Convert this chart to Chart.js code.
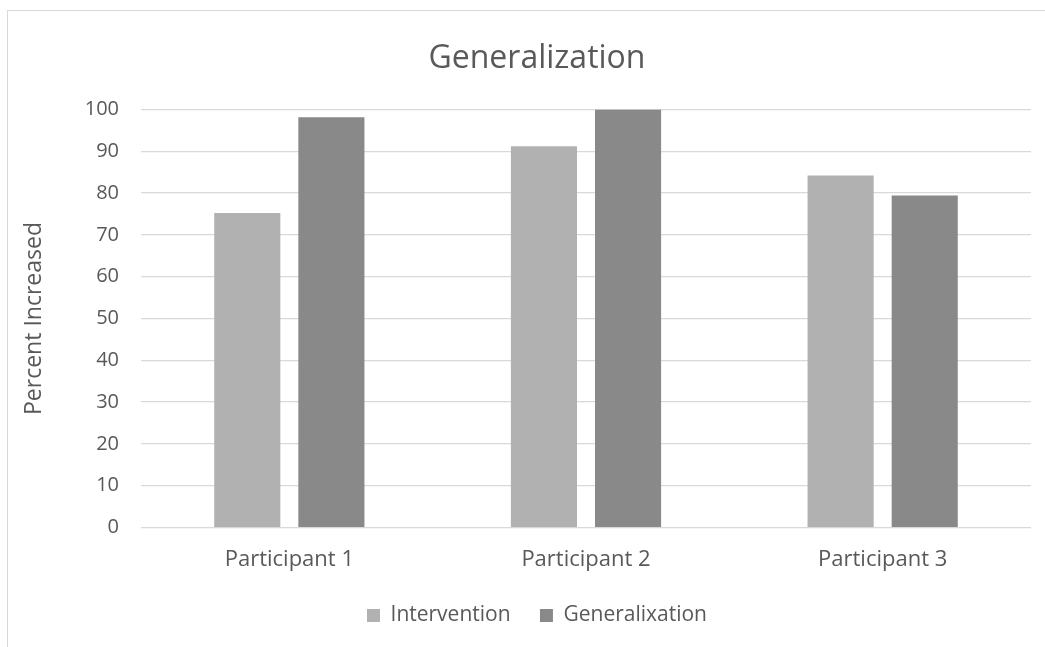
<!DOCTYPE html>
<html>
<head>
<meta charset="utf-8">
<script src="https://cdn.jsdelivr.net/npm/chart.js@4"></script>
<style>
  html, body { margin: 0; padding: 0; background: #fff; overflow: hidden; }
  body { width: 1045px; height: 647px; position: relative; }
  #frame {
    position: absolute; left: 7px; top: 10px;
    width: 1058px; height: 660px;
    border: 1px solid #d9d9d9; background: #fff;
  }
  #chart { display: block; }
</style>
</head>
<body>
<div id="frame"><canvas id="chart" width="1058" height="660"></canvas></div>
<script>
const categories = ['Participant 1', 'Participant 2', 'Participant 3'];
const interventionValues = [75.2, 91.2, 84.2];
const generalixationValues = [98.1, 100, 79.4];
const yTicks = [0, 10, 20, 30, 40, 50, 60, 70, 80, 90, 100];

const textColor = '#595959';
const family = '"Open Sans", "Noto Sans", sans-serif';

new Chart(document.getElementById('chart'), {
  type: 'bar',
  data: {
    labels: categories,
    datasets: [
      {
        label: 'Intervention',
        data: interventionValues,
        backgroundColor: '#b1b1b1',
        categoryPercentage: 0.567,
        barPercentage: 0.786
      },
      {
        label: 'Generalixation',
        data: generalixationValues,
        backgroundColor: '#898989',
        categoryPercentage: 0.567,
        barPercentage: 0.786
      }
    ]
  },
  options: {
    responsive: false,
    animation: false,
    layout: { padding: { left: 0, right: 0, top: 0, bottom: 35 } },
    plugins: {
      title: {
        display: true,
        text: 'Generalization',
        color: textColor,
        font: { family, size: 32, weight: 'normal' },
        padding: { top: 29, bottom: 31 }
      },
      legend: {
        position: 'bottom',
        labels: {
          color: textColor,
          font: { family, size: 21 },
          boxWidth: 13,
          boxHeight: 13,
          padding: 13,
          // extra spacing after every entry but the last one
          generateLabels: (chart) => {
            const items = Chart.defaults.plugins.legend.labels.generateLabels(chart);
            items.forEach((it, i) => { if (i < items.length - 1) it.text += '   '; });
            return items;
          }
        }
      },
      tooltip: { enabled: false }
    },
    scales: {
      x: {
        grid: { display: false, drawTicks: false },
        border: { display: false },
        ticks: {
          color: textColor,
          font: { family, size: 22 },
          padding: 19,
          maxRotation: 0
        }
      },
      y: {
        min: 0,
        max: 100,
        afterBuildTicks: (scale) => { scale.ticks = yTicks.map(v => ({ value: v })); },
        afterFit: (scale) => { scale.width = 133; },
        grid: { color: '#d9d9d9', lineWidth: 1.3, drawTicks: false },
        border: { display: false },
        ticks: {
          color: textColor,
          font: { family, size: 20 },
          padding: 22
        },
        title: {
          display: true,
          text: 'Percent Increased',
          color: textColor,
          font: { family, size: 23 },
          padding: { top: 13, bottom: 0 }
        }
      },
      // empty margin on the right of the plot area
      margin: {
        position: 'right',
        min: 0,
        max: 100,
        afterFit: (scale) => { scale.width = 35; },
        grid: { display: false, drawTicks: false },
        border: { display: false },
        ticks: { display: false }
      }
    }
  }
});
</script>
</body>
</html>
